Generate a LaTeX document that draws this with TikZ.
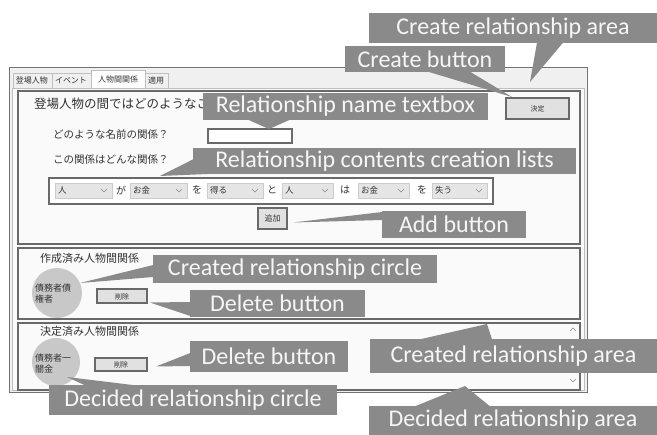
\documentclass[tikz,border=0pt]{standalone}
\usepackage{fontspec}
\setmainfont{Carlito}
\newfontfamily\jp{Noto Sans CJK JP}
\usetikzlibrary{calc}
\definecolor{cfill}{RGB}{138,138,138}
\definecolor{ctext}{RGB}{246,246,246}
\definecolor{frame}{RGB}{105,105,105}
\definecolor{winbg}{RGB}{240,240,240}
\definecolor{pagebg}{RGB}{250,250,250}
\definecolor{combo}{RGB}{229,229,229}
\definecolor{circ}{RGB}{200,200,200}
\definecolor{btn}{RGB}{225,225,225}
\definecolor{jpcol}{RGB}{50,50,50}
\begin{document}
\begin{tikzpicture}[x=1pt,y=-1pt,
  callout/.style={fill=cfill, text=ctext, font=\fontsize{24}{24}\selectfont, inner sep=0pt},
  ptr/.style={fill=cfill},
  area/.style={draw=frame, line width=2.4pt, fill=pagebg, anchor=north west, inner sep=0pt},
  uibtn/.style={draw=frame, line width=2pt, fill=btn, inner sep=0pt, text=jpcol, font=\jp\fontsize{7}{7}\selectfont},
  combobox/.style={draw=black!20, fill=combo, anchor=north west, inner sep=0pt, minimum height=15pt},
  jptext/.style={font=\jp\fontsize{10.5}{10.5}\selectfont, text=jpcol, anchor=west, inner sep=0pt},
  jpsmall/.style={font=\jp\fontsize{9.5}{9.5}\selectfont, text=jpcol, inner sep=0pt},
  tablabel/.style={font=\jp\fontsize{8}{8}\selectfont, text=jpcol, inner sep=0pt},
  relcircle/.style={circle, fill=circ, inner sep=0pt, minimum size=50pt},
  chev/.style={draw=black!45, line width=0.6pt}
]
\useasboundingbox (0,0) rectangle (657,435);
\fill[white] (0,0) rectangle (657,435);
% window
\draw[black!55, fill=winbg] (9,67) rectangle (587,392);
\draw[black!25, fill=pagebg] (12,88) rectangle (584,390);
% tabs
\draw[black!25] (13,88) -- (13,73) -- (52,73) -- (52,88);
\draw[black!25] (52,73) -- (91,73);
\draw[black!25, fill=white] (91,88) -- (91,70) -- (145,70) -- (145,88);
\draw[black!25] (145,73) -- (168,73) -- (168,88);
\node[tablabel] (tab1) at (32,80) {登場人物};
\node[tablabel] (tab2) at (71,80) {イベント};
\node[tablabel] (tab3) at (118,79) {人物間関係};
\node[tablabel] (tab4) at (156,80) {適用};
% create area
\node[area, minimum width=562pt, minimum height=153pt] (carea) at (17,90) {};
\node[font=\jp\fontsize{12.5}{12.5}\selectfont, text=jpcol, anchor=west, inner sep=0pt] (title) at (34,104) {登場人物の間ではどのようなこ};
\node[uibtn, minimum width=63pt, minimum height=21pt] (cbtn) at (537.5,108.5) {決定};
\node[jptext] (q1) at (53,134) {どのような名前の関係？};
\node[draw=frame, line width=2pt, fill=white, anchor=north west, minimum width=84pt, minimum height=14pt, inner sep=0pt] (tbox) at (207,128) {};
\node[jptext] (q2) at (53,160) {この関係はどんな関係？};
\node[draw=frame, line width=2.2pt, fill=white, anchor=north west, minimum width=444pt, minimum height=26pt, inner sep=0pt] (crow) at (48,177) {};
% combos
\foreach \xa/\xb/\t [count=\i] in {55/112/人, 130/187/お金, 207/263/得る, 282/333/人, 358/409/お金, 432/487/失う}{
  \pgfmathsetmacro{\w}{\xb-\xa}
  \node[combobox, minimum width=\w pt] (cb\i) at (\xa,183) {};
  \node[font=\jp\fontsize{8.5}{8.5}\selectfont, text=jpcol, anchor=west, inner sep=0pt] (cbt\i) at (\xa+3,190.5) {\t};
  \draw[chev] (\xb-11,189) -- (\xb-8,192) -- (\xb-5,189);
}
\foreach \x/\t [count=\i] in {121/が, 197/を, 272/と, 345/は, 422/を}{
  \node[font=\jp\fontsize{10}{10}\selectfont, text=jpcol, inner sep=0pt] (pt\i) at (\x,190) {\t};
}
\node[uibtn, minimum width=29pt, minimum height=21pt, font=\jp\fontsize{8}{8}\selectfont] (addb) at (272.5,218.5) {追加};
% created area
\node[area, minimum width=562pt, minimum height=71pt] (crarea) at (17,247) {};
\node[jptext, font=\jp\fontsize{11}{11}\selectfont] (crtitle) at (40,258) {作成済み人物間関係};
\begin{scope}
\clip (17,247) rectangle (579,318);
\node[relcircle] (circ1) at (57,293) {};
\end{scope}
\node[jpsmall, anchor=north west, align=left, font=\jp\fontsize{9}{10.5}\selectfont] (ct1) at (35,284) {債務者債\\権者};
\node[uibtn, minimum width=50pt, minimum height=14pt] (del1) at (122,296.5) {削除};
% decided area
\node[area, minimum width=562pt, minimum height=67pt] (darea) at (17,322) {};
\node[jptext, font=\jp\fontsize{11}{11}\selectfont] (dtitle) at (40,331) {決定済み人物間関係};
\node[relcircle, minimum size=48pt] (circ2) at (56,362) {};
\node[jpsmall, anchor=north west, align=left, font=\jp\fontsize{9}{10.5}\selectfont] (ct2) at (35,354) {債務者一\\闇金};
\node[uibtn, minimum width=52pt, minimum height=13pt] (del2) at (121,364.5) {削除};
\draw[chev] (570,331) -- (573,328) -- (576,331);
\draw[chev] (570,379) -- (573,382) -- (576,379);
% callouts
\node[callout, minimum width=288pt, minimum height=30pt] (c1) at (513,28) {Create relationship area};
\node[callout, minimum width=160pt, minimum height=26pt] (c2) at (425,59) {Create button};
\node[callout, minimum width=285pt, minimum height=27pt] (c3) at (345.5,106.5) {Relationship name textbox};
\node[callout, minimum width=383pt, minimum height=26pt] (c4) at (384.5,161) {Relationship contents creation lists};
\node[callout, minimum width=144pt, minimum height=27pt] (c5) at (454,224.5) {Add button};
\node[callout, minimum width=284pt, minimum height=28pt] (c6) at (295,269) {Created relationship circle};
\node[callout, minimum width=175pt, minimum height=27pt] (c7) at (277.5,303.5) {Delete button};
\node[callout, minimum width=158pt, minimum height=31pt] (c8) at (269,356.5) {Delete button};
\node[callout, minimum width=287pt, minimum height=34pt] (c9) at (513.5,356) {Created relationship area};
\node[callout, minimum width=288pt, minimum height=29pt] (c10) at (513,420.5) {Decided relationship area};
\node[callout, minimum width=288pt, minimum height=30pt] (c11) at (193,400) {Decided relationship circle};
% pointer tips
\coordinate (t1) at (530,82);
\coordinate (t2) at (512,97);
\coordinate (t3) at ($(tbox.north)+(19,1)$);
\coordinate (t4) at (160,176);
\coordinate (t5) at ($(addb.east)+(5,4)$);
\coordinate (t6) at (80,283);
\coordinate (t7) at ($(del1.east)+(2,6)$);
\coordinate (t8) at ($(del2.east)+(8,2)$);
\coordinate (t9) at (487,324);
\coordinate (t10) at (465,386);
\coordinate (t11) at (67,377);
\fill[ptr] ($(c1.south)+(24,-0.5)$) -- (t1) -- ($(c1.south)+(50,-0.5)$) -- cycle;
\fill[ptr] ($(c2.south)+(3,-0.5)$) -- (t2) -- ($(c2.south)+(45,-0.5)$) -- cycle;
\fill[ptr] ($(c3.south)+(-97.5,-0.5)$) -- (t3) -- ($(c3.south)+(-55.5,-0.5)$) -- cycle;
\fill[ptr] ($(c4.south west)+(2.5,-16)$) -- (t4) -- ($(c4.south west)+(22,-0.5)$) -- cycle;
\fill[ptr] ($(c5.west)+(0.5,-12.5)$) -- (t5) -- ($(c5.west)+(0.5,-4.5)$) -- cycle;
\fill[ptr] ($(c6.west)+(0.5,-4)$) -- (t6) -- ($(c6.west)+(0.5,8)$) -- cycle;
\fill[ptr] ($(c7.west)+(0.5,-1.5)$) -- (t7) -- ($(c7.west)+(0.5,12.5)$) -- cycle;
\fill[ptr] ($(c8.west)+(0.5,-3.5)$) -- (t8) -- ($(c8.west)+(0.5,9.5)$) -- cycle;
\fill[ptr] ($(c9.north)+(-93.5,0.5)$) -- (t9) -- ($(c9.north)+(-21.5,0.5)$) -- cycle;
\fill[ptr] ($(c10.north)+(-98,0.5)$) -- (t10) -- ($(c10.north)+(-23,0.5)$) -- cycle;
\fill[ptr] ($(c11.north)+(-108,0.5)$) -- (t11) -- ($(c11.north)+(-58,0.5)$) -- cycle;
\end{tikzpicture}
\end{document}
